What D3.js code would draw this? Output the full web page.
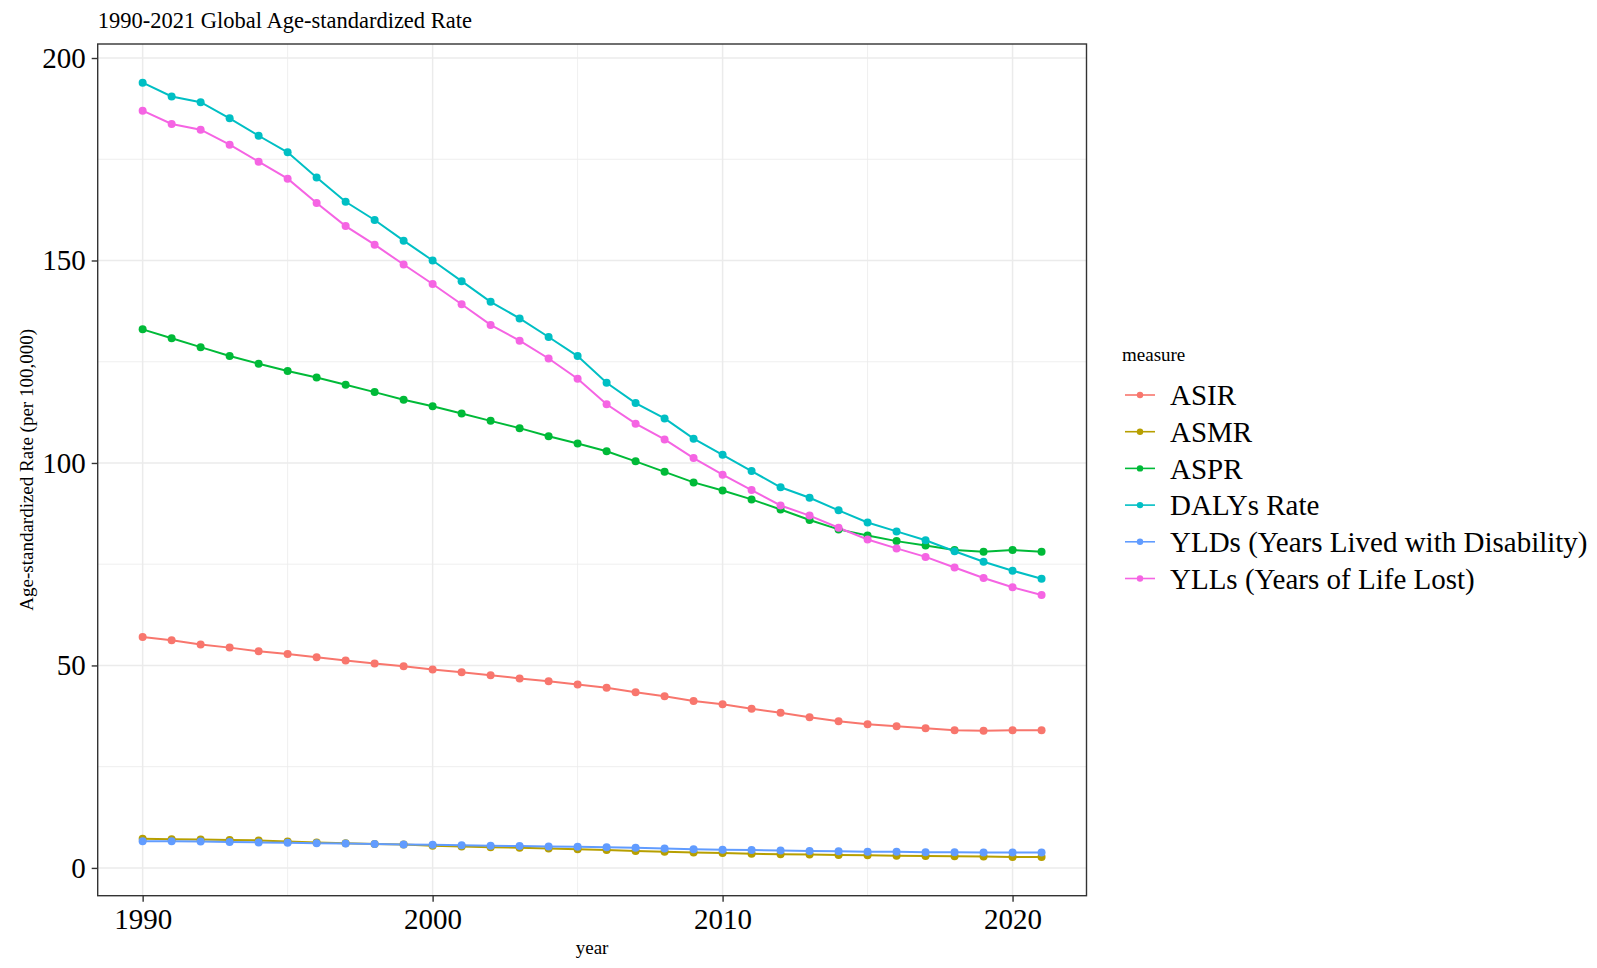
<!DOCTYPE html>
<html>
<head>
<meta charset="utf-8">
<script src="https://cdn.jsdelivr.net/npm/d3@7"></script>
<style>
  body { margin: 0; background: #fff; }
  text { font-family: "Liberation Serif", "Times New Roman", serif; fill: #000; }
</style>
</head>
<body>
<div id="chart"></div>
<script>
const years = d3.range(1990, 2022);
const measures = ["ASIR", "ASMR", "ASPR", "DALYs Rate", "YLDs (Years Lived with Disability)", "YLLs (Years of Life Lost)"];
const colors = ["#F8766D", "#B79F00", "#00BA38", "#00BFC4", "#619CFF", "#F564E3"];

// values, one per year 1990..2021
const asir = [57.0, 56.2, 55.2, 54.4, 53.5, 52.8, 52.0, 51.2, 50.5, 49.8, 49.0, 48.3, 47.6, 46.8, 46.1, 45.3,
  44.5, 43.4, 42.4, 41.2, 40.4, 39.3, 38.3, 37.2, 36.2, 35.5, 35.0, 34.5, 34.0, 33.9, 34.0, 34.0];
const asmr = [7.2, 7.1, 7.0, 6.9, 6.8, 6.5, 6.3, 6.1, 5.9, 5.8, 5.5, 5.3, 5.1, 5.0, 4.8, 4.6,
  4.4, 4.2, 4.0, 3.8, 3.7, 3.5, 3.4, 3.3, 3.2, 3.1, 3.0, 2.95, 2.9, 2.8, 2.7, 2.7];
const aspr = [133.0, 130.8, 128.6, 126.4, 124.5, 122.7, 121.1, 119.3, 117.5, 115.6, 114.0, 112.2, 110.4, 108.6, 106.6, 104.8,
  102.9, 100.4, 97.8, 95.2, 93.2, 91.0, 88.5, 85.9, 83.6, 82.1, 80.7, 79.6, 78.5, 78.1, 78.5, 78.1];
const dalys = [193.9, 190.5, 189.1, 185.1, 180.8, 176.7, 170.5, 164.5, 160.0, 154.9, 150.0, 144.9, 139.8, 135.7, 131.1, 126.4,
  119.8, 114.8, 111.0, 106.0, 102.0, 98.0, 94.0, 91.4, 88.3, 85.3, 83.1, 80.9, 78.2, 75.6, 73.4, 71.4];
const ylds = [6.6, 6.6, 6.5, 6.4, 6.3, 6.2, 6.1, 6.0, 5.9, 5.8, 5.7, 5.6, 5.5, 5.4, 5.3, 5.2,
  5.1, 5.0, 4.8, 4.6, 4.5, 4.4, 4.3, 4.2, 4.1, 4.0, 4.0, 3.9, 3.9, 3.8, 3.8, 3.8];
const ylls = [187.0, 183.7, 182.3, 178.6, 174.4, 170.2, 164.2, 158.5, 153.9, 149.0, 144.2, 139.2, 134.1, 130.2, 125.8, 120.8,
  114.5, 109.7, 105.8, 101.2, 97.1, 93.3, 89.5, 87.0, 84.0, 81.1, 78.9, 76.8, 74.2, 71.6, 69.3, 67.4];

const xMajor = [1990, 2000, 2010, 2020];
const xMinor = [1995, 2005, 2015];
const yMajor = [0, 50, 100, 150, 200];
const yMinor = [25, 75, 125, 175];

const seriesValues = [asir, asmr, aspr, dalys, ylds, ylls];
const series = measures.map((m, i) => ({
  name: m,
  color: colors[i],
  points: years.map((yr, j) => ({ year: yr, value: seriesValues[i][j] }))
}));

const W = 1597, H = 968;
const panel = { left: 97.7, right: 1086.5, top: 44, bottom: 895.7 };

const svg = d3.select("#chart")
  .append("svg")
  .attr("width", W)
  .attr("height", H);

// ggplot style 5% expansion
const allVals = seriesValues.flat();
const vMin = d3.min(allVals), vMax = d3.max(allVals);
const vPad = (vMax - vMin) * 0.05;
const xPad = (2021 - 1990) * 0.05;

const x = d3.scaleLinear()
  .domain([1990 - xPad, 2021 + xPad])
  .range([panel.left, panel.right]);
const y = d3.scaleLinear()
  .domain([vMin - vPad, vMax + vPad])
  .range([panel.bottom, panel.top]);

// grid
const grid = svg.append("g");
grid.selectAll(".ymin").data(yMinor).enter().append("line")
  .attr("x1", panel.left).attr("x2", panel.right)
  .attr("y1", d => y(d)).attr("y2", d => y(d))
  .attr("stroke", "#EBEBEB").attr("stroke-width", 0.8);
grid.selectAll(".xmin").data(xMinor).enter().append("line")
  .attr("y1", panel.top).attr("y2", panel.bottom)
  .attr("x1", d => x(d)).attr("x2", d => x(d))
  .attr("stroke", "#EBEBEB").attr("stroke-width", 0.8);
grid.selectAll(".ymaj").data(yMajor).enter().append("line")
  .attr("x1", panel.left).attr("x2", panel.right)
  .attr("y1", d => y(d)).attr("y2", d => y(d))
  .attr("stroke", "#EBEBEB").attr("stroke-width", 1.5);
grid.selectAll(".xmaj").data(xMajor).enter().append("line")
  .attr("y1", panel.top).attr("y2", panel.bottom)
  .attr("x1", d => x(d)).attr("x2", d => x(d))
  .attr("stroke", "#EBEBEB").attr("stroke-width", 1.5);

// lines then points
const line = d3.line().x(d => x(d.year)).y(d => y(d.value));
svg.append("g").selectAll("path")
  .data(series).enter().append("path")
  .attr("d", d => line(d.points))
  .attr("fill", "none")
  .attr("stroke", d => d.color)
  .attr("stroke-width", 2);

svg.append("g").selectAll("g")
  .data(series).enter().append("g")
  .attr("fill", d => d.color)
  .selectAll("circle")
  .data(d => d.points).enter().append("circle")
  .attr("cx", d => x(d.year))
  .attr("cy", d => y(d.value))
  .attr("r", 4);

// panel border
svg.append("rect")
  .attr("x", panel.left).attr("y", panel.top)
  .attr("width", panel.right - panel.left)
  .attr("height", panel.bottom - panel.top)
  .attr("fill", "none")
  .attr("stroke", "#333333")
  .attr("stroke-width", 1.4);

// axes
const xAxis = svg.append("g")
  .attr("transform", `translate(0,${panel.bottom})`)
  .call(d3.axisBottom(x).tickValues(xMajor).tickFormat(d3.format("d")).tickSize(6).tickPadding(7));
const yAxis = svg.append("g")
  .attr("transform", `translate(${panel.left},0)`)
  .call(d3.axisLeft(y).tickValues(yMajor).tickSize(6).tickPadding(6));

[xAxis, yAxis].forEach(a => {
  a.select(".domain").remove();
  a.selectAll(".tick line").attr("stroke", "#333333").attr("stroke-width", 1.4);
  a.selectAll(".tick text")
    .attr("fill", "#000")
    .style("font-family", '"Liberation Serif", "Times New Roman", serif')
    .style("font-size", "29px");
});

// titles
svg.append("text")
  .attr("x", panel.left)
  .attr("y", 28)
  .style("font-size", "22.5px")
  .text("1990-2021 Global Age-standardized Rate");

svg.append("text")
  .attr("x", (panel.left + panel.right) / 2)
  .attr("y", 954)
  .attr("text-anchor", "middle")
  .style("font-size", "19px")
  .text("year");

svg.append("text")
  .attr("transform", `translate(33,${(panel.top + panel.bottom) / 2}) rotate(-90)`)
  .attr("text-anchor", "middle")
  .style("font-size", "19px")
  .text("Age-standardized Rate (per 100,000)");

// legend
const legend = svg.append("g").attr("transform", "translate(1122,0)");
legend.append("text")
  .attr("x", 0)
  .attr("y", 361)
  .style("font-size", "19px")
  .text("measure");

const rows = legend.selectAll(".row")
  .data(series).enter().append("g")
  .attr("transform", (d, i) => `translate(0,${395 + i * 36.7})`);
rows.append("line")
  .attr("x1", 3).attr("x2", 33)
  .attr("stroke", d => d.color)
  .attr("stroke-width", 1.6);
rows.append("circle")
  .attr("cx", 18).attr("r", 3.2)
  .attr("fill", d => d.color);
rows.append("text")
  .attr("x", 48)
  .attr("dy", "0.35em")
  .style("font-size", "29px")
  .text(d => d.name);
</script>
</body>
</html>
